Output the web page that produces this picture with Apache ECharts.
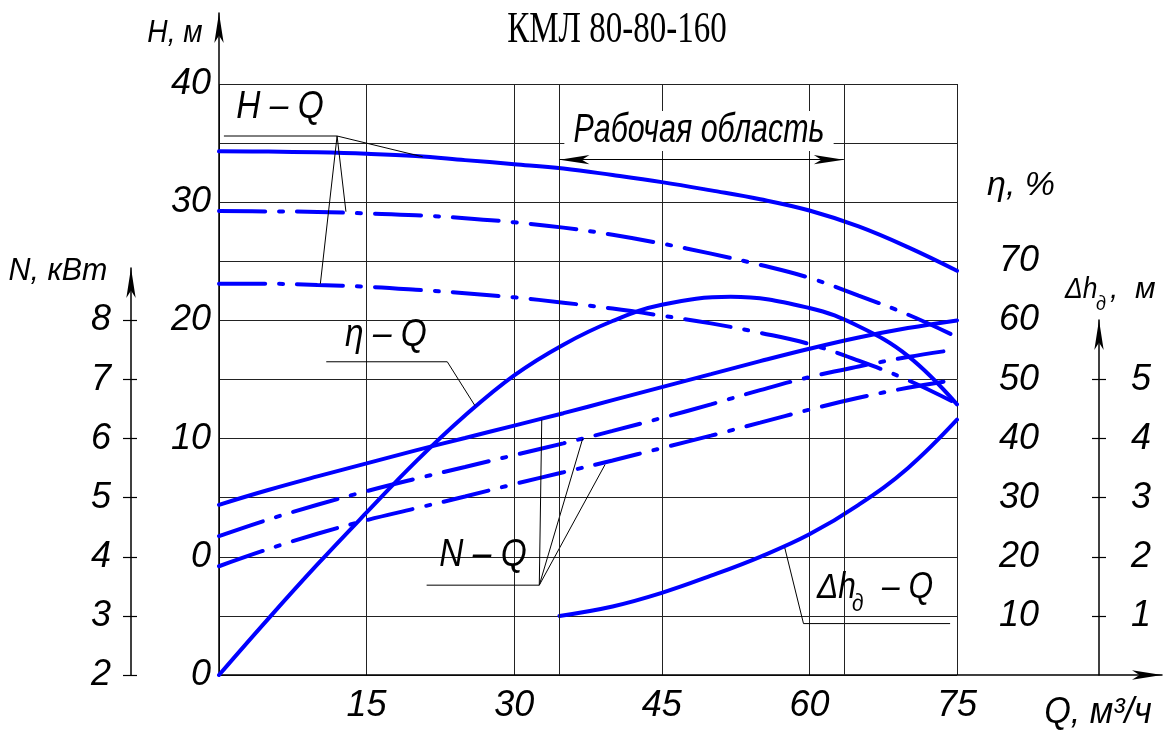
<!DOCTYPE html>
<html lang="ru">
<head>
<meta charset="UTF-8">
<title>КМЛ 80-80-160</title>
<script src="https://cdn.jsdelivr.net/npm/echarts@6/dist/echarts.min.js"></script>
<style>
    html, body { margin: 0; padding: 0; background: #fff; }
    #chart { width: 1167px; height: 736px; }
</style>
</head>
<body>
<div id="chart"></div>
<script>
    // подача, м3/ч
    const qFlow = [0, 5, 10, 15, 20, 25, 30, 35, 40, 45, 50, 55, 60, 65, 70, 75];
    // напор H, м (три диаметра колеса)
    const headMain = [34.3, 34.28, 34.22, 34.1, 33.9, 33.56, 33.22, 32.85, 32.3, 31.7, 31.0, 30.25, 29.3, 27.95, 26.2, 24.2];
    const headMid = [29.25, 29.22, 29.18, 29.05, 28.9, 28.65, 28.3, 27.85, 27.25, 26.5, 25.65, 24.7, 23.6, 22.1, 20.5, 18.6];
    const headLow = [23.1, 23.1, 23.0, 22.85, 22.6, 22.3, 21.95, 21.5, 21.0, 20.4, 19.75, 18.95, 18.0, 16.6, 14.95, 12.95];
    // КПД, % (точка максимума — около 52 м3/ч)
    const qEff = [0, 5, 10, 15, 20, 25, 30, 35, 40, 45, 52, 60, 65, 70, 75];
    const effMain = [0, 9.5, 18.7, 27.5, 36.1, 43.9, 50.7, 55.9, 59.9, 62.65, 64.0, 62.1, 59.0, 54.0, 45.8];
    // мощность N, кВт
    const powerMain = [4.88, 5.13, 5.36, 5.58, 5.8, 6.01, 6.22, 6.43, 6.65, 6.87, 7.09, 7.31, 7.52, 7.71, 7.87, 8.0];
    const powerMid = [4.35, 4.63, 4.88, 5.11, 5.32, 5.52, 5.72, 5.92, 6.13, 6.35, 6.58, 6.82, 7.04, 7.22, 7.38, 7.51];
    const powerLow = [3.84, 4.13, 4.39, 4.62, 4.82, 5.02, 5.23, 5.43, 5.63, 5.84, 6.05, 6.27, 6.49, 6.69, 6.86, 7.0];
    // допустимый кавитационный запас
    const qNpsh = [34.6, 40, 45, 50, 55, 60, 65, 70, 75];
    const npsh = [1.0, 1.16, 1.39, 1.68, 2.0, 2.38, 2.88, 3.5, 4.32];
    // рабочая область
    const workZone = [34.6, 63.5];
    const workArrowH = 33.6;

    // подписи шкал
    const qTicks = [15, 30, 45, 60, 75];
    const headTicks = [-10, 0, 10, 20, 30, 40];
    const effTicks = [10, 20, 30, 40, 50, 60, 70];
    const powerTicks = [2, 3, 4, 5, 6, 7, 8];
    const npshTicks = [1, 2, 3, 4, 5];

    // выноски (в единицах осей)
    const leadHQ = [
        [[0.5, 35.6], [12, 35.6], [20.7, 33.84]],
        [[12, 35.6], [12.9, 29.2]],
        [[12, 35.6], [10.3, 23.1]]
    ];
    const leadEta = [[10.9, 53], [23.2, 53], [26, 45.6]];
    const leadNQ = [
        [[21.1, 3.52], [32.55, 3.52], [32.8, 6.32]],
        [[32.55, 3.52], [36.96, 6.0]],
        [[32.55, 3.52], [39.23, 5.56]]
    ];
    const leadNpsh = [[74.3, 0.87], [59.4, 0.87], [57.5, 2.15]];

    const BLUE = '#0000ff';
    const DASH = [46, 14, 4, 14];
    const FONT = '"Liberation Sans", Arial, sans-serif';
    const labelFont = {fontFamily: FONT, fontStyle: 'italic', fontSize: 36, color: '#000'};
    const gridLine = {color: '#222', width: 1};
    const axisArrow = {
        show: true, onZero: false, symbol: ['none', 'arrow'], symbolSize: [7, 30],
        lineStyle: {color: '#000', width: 1.5}
    };

    const pts = (xs, ys) => xs.map((x, i) => [x, ys[i]]);

    function curve(data, yAxisIndex, dashed) {
        return {
            type: 'line', xAxisIndex: 0, yAxisIndex: yAxisIndex, data: data,
            smooth: 0.4, symbol: 'none', silent: true, z: 3,
            lineStyle: {color: BLUE, width: 4, type: dashed ? DASH : 'solid', cap: 'round'}
        };
    }

    function leader(data, yAxisIndex) {
        return {
            type: 'line', xAxisIndex: 0, yAxisIndex: yAxisIndex, data: data,
            symbol: 'none', silent: true, z: 4,
            lineStyle: {color: '#000', width: 1}
        };
    }

    function txt(text, x, y, size, extra) {
        return Object.assign({
            type: 'text', x: x, y: y, scaleX: 0.88, z: 20, silent: true,
            style: {
                text: text, font: 'italic ' + size + 'px ' + FONT, fill: '#000',
                align: 'center', verticalAlign: 'middle'
            }
        }, extra || {});
    }

    function txtLeft(text, x, y, size, scaleX) {
        const t = txt(text, x, y, size);
        t.style.align = 'left';
        t.scaleX = scaleX;
        return t;
    }

    const series = [
        // доп. вертикали границ рабочей области
        {
            type: 'line', xAxisIndex: 0, yAxisIndex: 0, data: [], silent: true, z: 1,
            markLine: {
                silent: true, symbol: 'none', animation: false, label: {show: false},
                lineStyle: {color: '#222', width: 1, type: 'solid'},
                data: workZone.map(q => ({xAxis: q}))
            }
        },
        {
            type: 'line', xAxisIndex: 0, yAxisIndex: 0, data: [], silent: true, z: 4,
            markLine: {
                silent: true, symbol: ['arrow', 'arrow'], animation: false, label: {show: false},
                lineStyle: {color: '#000', width: 1, type: 'solid'},
                data: [[
                    {coord: [workZone[0], workArrowH], symbolSize: [7, 30]},
                    {coord: [workZone[1], workArrowH], symbolSize: [7, 30]}
                ]]
            }
        },
        curve(pts(qFlow, headMain), 0, false),
        curve(pts(qFlow, headMid), 0, true),
        curve(pts(qFlow, headLow), 0, true),
        curve(pts(qEff, effMain), 1, false),
        curve(pts(qFlow, powerMain), 2, false),
        curve(pts(qFlow, powerMid), 2, true),
        curve(pts(qFlow, powerLow), 2, true),
        curve(pts(qNpsh, npsh), 3, false),
        leader(leadEta, 1),
        leader(leadNpsh, 3)
    ];
    leadHQ.forEach(l => series.push(leader(l, 0)));
    leadNQ.forEach(l => series.push(leader(l, 2)));

    const chart = echarts.init(document.getElementById('chart'));
    chart.setOption({
        animation: false,
        backgroundColor: '#fff',
        grid: [
            {left: 219, top: 84, width: 738, height: 591},   // поле графика
            {left: 219, top: 13, width: 1, height: 662},     // ось H
            {left: 131, top: 268, width: 1, height: 407},    // ось N
            {left: 1099, top: 320, width: 1, height: 355},   // ось Δh
            {left: 219, top: 674, width: 943, height: 1}     // ось Q
        ],
        xAxis: [
            {
                gridIndex: 0, type: 'value', min: 0, max: 75, interval: 15, position: 'bottom',
                axisLine: {show: false}, axisTick: {show: false},
                axisLabel: Object.assign({customValues: qTicks, margin: 13}, labelFont),
                splitLine: {show: true, lineStyle: gridLine}
            },
            {gridIndex: 1, type: 'value', show: false, position: 'bottom'},
            {gridIndex: 2, type: 'value', show: false, position: 'bottom'},
            {gridIndex: 3, type: 'value', show: false, position: 'bottom'},
            {
                gridIndex: 4, type: 'value', min: 0, max: 1, position: 'bottom',
                axisLine: axisArrow, axisTick: {show: false}, axisLabel: {show: false}, splitLine: {show: false}
            }
        ],
        yAxis: [
            {
                gridIndex: 0, type: 'value', min: -10, max: 40, interval: 10, position: 'left',
                axisLine: {show: false}, axisTick: {show: false}, splitLine: {show: false},
                axisLabel: Object.assign({
                    customValues: headTicks, margin: 8,
                    formatter: v => v === -10 ? '0' : String(v)
                }, labelFont)
            },
            {
                gridIndex: 0, type: 'value', min: 0, max: 100, interval: 10, position: 'right', offset: 36,
                axisLine: {show: false}, axisTick: {show: false},
                splitLine: {show: true, lineStyle: gridLine},
                axisLabel: Object.assign({customValues: effTicks, margin: 6}, labelFont)
            },
            {gridIndex: 0, type: 'value', min: 2, max: 12, position: 'left', show: false},
            {gridIndex: 0, type: 'value', min: 0, max: 10, position: 'left', show: false},
            {
                gridIndex: 1, type: 'value', min: 0, max: 1, position: 'left',
                axisLine: axisArrow, axisTick: {show: false}, axisLabel: {show: false}, splitLine: {show: false}
            },
            {
                gridIndex: 2, type: 'value', min: 2, max: 2 + 407 / 59.1, position: 'left',
                axisLine: axisArrow,
                axisTick: {show: true, customValues: powerTicks, length: 8, lineStyle: {color: '#000', width: 1.2}},
                axisLabel: Object.assign({customValues: powerTicks, margin: 20}, labelFont),
                splitLine: {show: false}
            },
            {
                gridIndex: 2, type: 'value', min: 2, max: 2 + 407 / 59.1, position: 'left',
                axisLine: {show: false, onZero: false},
                axisTick: {show: true, inside: true, customValues: powerTicks, length: 6, lineStyle: {color: '#000', width: 1.2}},
                axisLabel: {show: false}, splitLine: {show: false}
            },
            {
                gridIndex: 3, type: 'value', min: 0, max: 355 / 59.1, position: 'left',
                axisLine: axisArrow,
                axisTick: {show: true, inside: true, customValues: npshTicks, length: 7, lineStyle: {color: '#000', width: 1.2}},
                axisLabel: Object.assign({customValues: npshTicks, inside: true, margin: 32}, labelFont),
                splitLine: {show: false}
            },
            {
                gridIndex: 3, type: 'value', min: 0, max: 355 / 59.1, position: 'left',
                axisLine: {show: false, onZero: false},
                axisTick: {show: true, customValues: npshTicks, length: 7, lineStyle: {color: '#000', width: 1.2}},
                axisLabel: {show: false}, splitLine: {show: false}
            },
            {gridIndex: 4, type: 'value', show: false, position: 'left'}
        ],
        series: series,
        graphic: [
            {
                type: 'text', x: 617, y: 30, scaleX: 0.75, z: 20, silent: true,
                style: {
                    text: 'КМЛ 80-80-160', font: '44px "Liberation Serif", "Times New Roman", serif',
                    fill: '#000', align: 'center', verticalAlign: 'middle'
                }
            },
            txt('Рабочая область', 699, 131, 40, {
                scaleX: 0.76,
                style: {
                    text: 'Рабочая область', font: 'italic 40px ' + FONT, fill: '#000',
                    align: 'center', verticalAlign: 'middle',
                    backgroundColor: '#fff', padding: [0, 12], lineHeight: 40
                }
            }),
            txt('H – Q', 280, 107, 38),
            txt('η – Q', 386, 335, 38),
            txt('N – Q', 483, 555, 38),
            txtLeft('Δh', 817, 588, 36, 0.88),
            txtLeft('д', 852, 605, 23, 0.9),
            txtLeft('– Q', 882, 588, 36, 0.88),
            txt('H, м', 175, 33, 32),
            txt('N, кВт', 58, 271, 32, {scaleX: 0.95}),
            txt('η, %', 1021, 186, 34, {scaleX: 1}),
            txtLeft('Δh', 1065, 290, 30, 0.88),
            txtLeft('д', 1096, 304, 20, 0.9),
            txtLeft(',  м', 1110, 290, 30, 1),
            txt('Q, м³/ч', 1098, 713, 36, {scaleX: 0.95})
        ]
    });
</script>
</body>
</html>
